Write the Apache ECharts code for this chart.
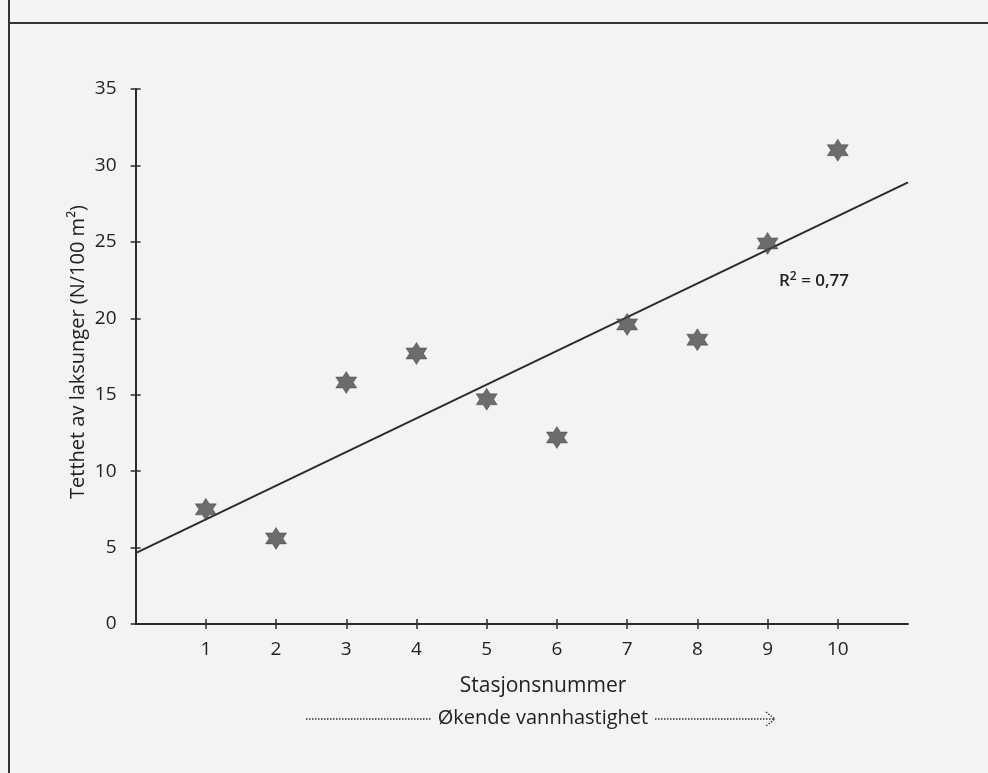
<!DOCTYPE html>
<html><head><meta charset="utf-8">
<script src="https://cdn.jsdelivr.net/npm/echarts@6/dist/echarts.min.js"></script>
<style>html,body{margin:0;padding:0;background:#f3f3f1;}#c{width:988px;height:773px;}</style>
</head><body><div id="c"></div>
<script>
const stations = [1, 2, 3, 4, 5, 6, 7, 8, 9, 10];
const density = [7.5, 5.6, 15.8, 17.7, 14.7, 12.2, 19.6, 18.6, 24.9, 31.0];
const yTicks = [0, 5, 10, 15, 20, 25, 30, 35];
const r2Text = 'R{s|2} = 0,77';
const xName = 'Stasjonsnummer';
const yName = 'Tetthet av laksunger (N/100 m²)';
const arrowText = 'Økende vannhastighet';

// least squares regression from the data
const n = stations.length;
const mx = stations.reduce((a,b)=>a+b,0)/n;
const my = density.reduce((a,b)=>a+b,0)/n;
let sxy=0,sxx=0;
for(let i=0;i<n;i++){sxy+=(stations[i]-mx)*(density[i]-my);sxx+=(stations[i]-mx)**2;}
const slope=sxy/sxx, icpt=my-slope*mx;
const xMin=0,xMax=11;
const fitLine=[[xMin,icpt+slope*xMin],[xMax,icpt+slope*xMax]];

const star='path://M50,0 L64.43,25 L93.3,25 L78.87,50 L93.3,75 L64.43,75 L50,100 L35.57,75 L6.7,75 L21.13,50 L6.7,25 L35.57,25 Z';
const ink='#2b2b2b';
const font='"Open Sans", "Noto Sans", sans-serif';
const chart=echarts.init(document.getElementById('c'));
const axisCommon={min:xMin,max:xMax,interval:1};
chart.setOption({
  backgroundColor:'#f3f3f1',
  animation:false,
  grid:{left:135.6,right:80,top:89,bottom:149},
  xAxis:[
    Object.assign({type:'value',position:'bottom',
      axisLine:{show:true,lineStyle:{color:ink,width:2}},
      axisTick:{show:true,length:5,customValues:stations,lineStyle:{color:ink,width:1.5}},
      axisLabel:{show:true,customValues:stations,margin:16,fontSize:19,color:'#222',fontFamily:font},
      splitLine:{show:false}},axisCommon),
    Object.assign({type:'value',position:'bottom',
      axisLine:{show:false},
      axisTick:{show:true,inside:true,length:5,customValues:stations,lineStyle:{color:ink,width:1.5}},
      axisLabel:{show:false},splitLine:{show:false}},axisCommon)
  ],
  yAxis:[
    {type:'value',min:0,max:35,interval:5,position:'left',
      axisLine:{show:true,lineStyle:{color:ink,width:2}},
      axisTick:{show:true,length:5,lineStyle:{color:ink,width:1.5}},
      axisLabel:{margin:19,fontSize:19,color:'#222',fontFamily:font,
        formatter:v=>yTicks.includes(v)?String(v):''},
      splitLine:{show:false}},
    {type:'value',min:0,max:35,interval:5,position:'left',
      axisLine:{show:false},
      axisTick:{show:true,inside:true,length:5,lineStyle:{color:ink,width:1.5}},
      axisLabel:{show:false},splitLine:{show:false}}
  ],
  series:[
    {type:'line',data:fitLine,symbol:'none',lineStyle:{color:ink,width:2},z:2},
    {type:'scatter',data:stations.map((s,i)=>[s,density[i]]),symbol:star,symbolSize:[21,22],
      itemStyle:{color:'#4a4a4c',borderColor:'#333',borderWidth:0.5},z:3}
  ],
  graphic:[
    {type:'line',shape:{x1:9,y1:0,x2:9,y2:773},style:{stroke:'#333',lineWidth:2}},
    {type:'line',shape:{x1:9,y1:23,x2:988,y2:23},style:{stroke:'#333',lineWidth:2}},
    {type:'text',left:779,top:271,style:{text:r2Text,fontSize:17,fontWeight:600,fill:'#222',fontFamily:font,
      rich:{s:{fontSize:12,fontWeight:600,verticalAlign:'top',padding:[0,0,9,0],fill:'#222',fontFamily:font}}}},
    {type:'text',x:543,y:686,style:{text:xName,fontSize:21,fill:'#222',fontFamily:font,align:'center',verticalAlign:'middle'}},
    {type:'text',x:78,y:352,rotation:Math.PI/2,style:{text:yName,fontSize:20,fill:'#222',fontFamily:font,align:'center',verticalAlign:'middle'}},
    {type:'text',x:543,y:718,style:{text:arrowText,fontSize:20,fill:'#222',fontFamily:font,align:'center',verticalAlign:'middle'}},
    {type:'line',shape:{x1:306,y1:719,x2:432,y2:719},style:{stroke:'#333',lineWidth:1.3,lineDash:[1.5,1.5]}},
    {type:'line',shape:{x1:655,y1:719,x2:774,y2:719},style:{stroke:'#333',lineWidth:1.3,lineDash:[1.5,1.5]}},
    {type:'polyline',shape:{points:[[766,712],[775,719],[766,726]]},style:{stroke:'#333',lineWidth:1.3,fill:null,lineDash:[1.5,1.5]}}
  ]
});
</script></body></html>
